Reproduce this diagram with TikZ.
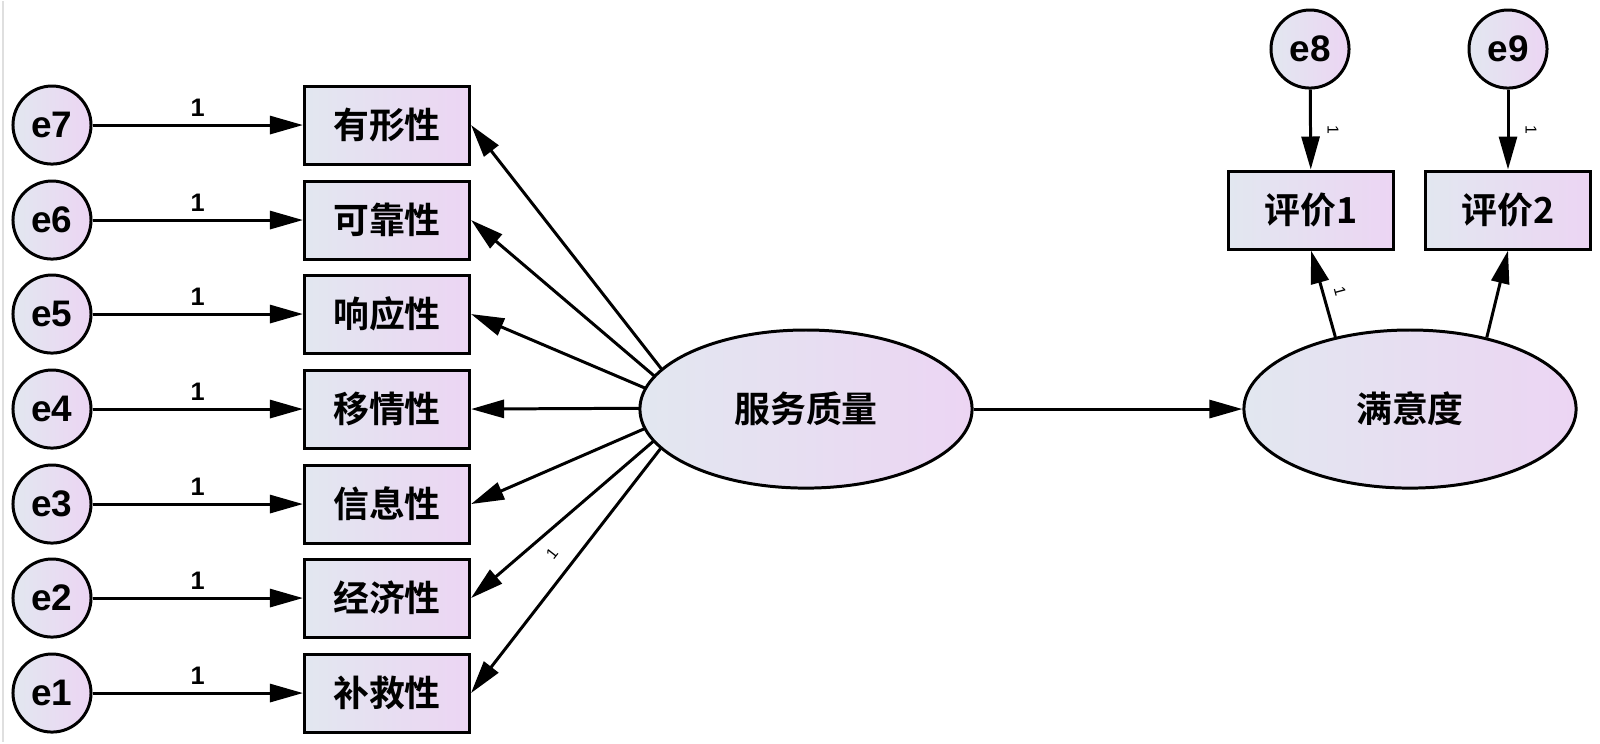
\documentclass[tikz,border=0pt]{standalone}
\usepackage{fontspec}
\setmainfont{Liberation Sans}
\newfontfamily\cjk{Noto Sans CJK SC Bold}
\usepackage{tikz}
\usetikzlibrary{arrows.meta,shapes.geometric}

\definecolor{shadeleft}{RGB}{226,231,240}
\definecolor{shaderight}{RGB}{236,213,243}

\begin{document}
\begin{tikzpicture}[x=0.01cm,y=-0.01cm]
    \tikzstyle{arrow} = [line width=0.85pt,-{Triangle[length=3.3mm,width=1.8mm]}]
    \tikzstyle{errnode} = [draw, circle, line width=0.85pt, minimum size=0.78cm, inner sep=0pt,
                           left color=shadeleft, right color=shaderight, font=\bfseries\fontsize{10.5}{12}\selectfont]
    \tikzstyle{obsbox} = [draw, rectangle, line width=0.85pt, minimum width=1.65cm, minimum height=0.78cm,
                          left color=shadeleft, right color=shaderight, font=\cjk\fontsize{10.2}{12}\selectfont]
    \tikzstyle{latent} = [draw, ellipse, line width=0.85pt, minimum width=3.32cm, minimum height=1.58cm,
                          left color=shadeleft, right color=shaderight, font=\cjk\fontsize{10.2}{12}\selectfont]
    \tikzstyle{weight} = [font=\bfseries\fontsize{7.2}{8}\selectfont, inner sep=2pt]
    \tikzstyle{tinyone} = [font=\fontsize{4.5}{5}\selectfont, inner sep=0pt]

    % Page and the faint panel edge on the left
    \fill [white] (0,0) rectangle (1600,741);
    \draw [gray!25, line width=0.6pt] (3,0) -- (3,741);

    % Left column, error circles
    \node [errnode] (E7) at (52,124) {e7};
    \node [errnode] (E6) at (52,219) {e6};
    \node [errnode] (E5) at (52,313) {e5};
    \node [errnode] (E4) at (52,408) {e4};
    \node [errnode] (E3) at (52,503) {e3};
    \node [errnode] (E2) at (52,597) {e2};
    \node [errnode] (E1) at (52,692) {e1};

    % Left column, observed boxes
    \node [obsbox] (Tangible)   at (387,124) {有形性};
    \node [obsbox] (Reliable)   at (387,219) {可靠性};
    \node [obsbox] (Responsive) at (387,313) {响应性};
    \node [obsbox] (Empathy)    at (387,408) {移情性};
    \node [obsbox] (Info)       at (387,503) {信息性};
    \node [obsbox] (Economy)    at (387,597) {经济性};
    \node [obsbox] (Recovery)   at (387,692) {补救性};

    % Errors into boxes, each fixed to 1
    \draw [arrow] (E7) -- node [weight, above] (W7) {1} (Tangible);
    \draw [arrow] (E6) -- node [weight, above] (W6) {1} (Reliable);
    \draw [arrow] (E5) -- node [weight, above] (W5) {1} (Responsive);
    \draw [arrow] (E4) -- node [weight, above] (W4) {1} (Empathy);
    \draw [arrow] (E3) -- node [weight, above] (W3) {1} (Info);
    \draw [arrow] (E2) -- node [weight, above] (W2) {1} (Economy);
    \draw [arrow] (E1) -- node [weight, above] (W1) {1} (Recovery);

    % Loadings fan out from one point inside the ellipse (drawn before it, so it covers them)
    \coordinate (Hub) at (692,407);
    \draw [arrow] (Hub) -- (Tangible.east);
    \draw [arrow] (Hub) -- (Reliable.east);
    \draw [arrow] (Hub) -- (Responsive.east);
    \draw [arrow] (Hub) -- (Empathy.east);
    \draw [arrow] (Hub) -- (Info.east);
    \draw [arrow] (Hub) -- (Economy.east);
    \draw [arrow] (Hub) -- (Recovery.east);
    \node [tinyone, rotate=52] (L1) at (552,553) {1};

    % Latent variables
    \node [latent] (Quality)   at (806,408) {服务质量};
    \node [latent] (Satisfied) at (1410,408) {满意度};
    \draw [arrow] (Quality) -- (Satisfied);

    % Right side, error circles on top
    \node [errnode] (E8) at (1310,48) {e8};
    \node [errnode] (E9) at (1508,48) {e9};

    % Right side, observed boxes
    \node [obsbox] (EvalOne) at (1311,209) {评价1};
    \node [obsbox] (EvalTwo) at (1508,209) {评价2};

    \draw [arrow] (E8) -- (EvalOne);
    \node [tinyone, rotate=-90] (L8) at (1333,129) {1};
    \draw [arrow] (E9) -- (EvalTwo);
    \node [tinyone, rotate=-90] (L9) at (1531,129) {1};

    \draw [arrow] (Satisfied.136) -- (EvalOne.south);
    \node [tinyone, rotate=-75] (LS) at (1340,290) {1};
    \draw [arrow] (Satisfied.43) -- (EvalTwo.south);
\end{tikzpicture}
\end{document}
